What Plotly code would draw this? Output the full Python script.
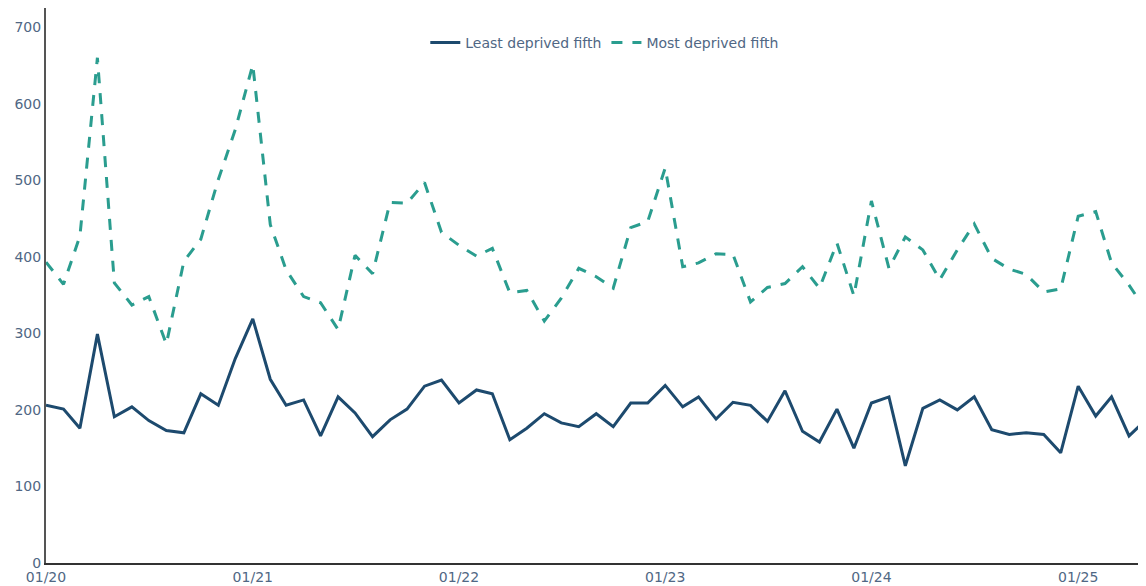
import pandas as pd
import plotly.graph_objects as go

# monthly series, Jan 2020 - May 2025
months = pd.date_range("2020-01-01", "2025-05-01", freq="MS")

least_deprived = [
    206, 201, 176, 299, 191, 204, 186, 173, 170, 221, 206, 267,
    319, 240, 206, 213, 166, 217, 196, 165, 187, 201, 231, 239,
    209, 226, 221, 161, 176, 195, 183, 178, 195, 178, 209, 209,
    232, 204, 217, 188, 210, 206, 185, 225, 172, 158, 201, 150,
    209, 217, 127, 202, 213, 200, 217, 174, 168, 170, 168, 144,
    231, 192, 217, 166, 187,
]

most_deprived = [
    393, 364, 427, 660, 366, 337, 348, 286, 394, 423, 501, 566,
    651, 442, 383, 348, 340, 305, 402, 378, 471, 470, 497, 432,
    415, 401, 411, 353, 356, 316, 346, 385, 374, 359, 438, 446,
    516, 387, 392, 404, 403, 341, 360, 365, 387, 359, 418, 349,
    473, 385, 426, 409, 370, 409, 443, 398, 384, 377, 354, 358,
    453, 459, 392, 363, 330,
]

fig = go.Figure()
fig.add_trace(go.Scatter(x=months, y=least_deprived, name="Least deprived fifth",
                         mode="lines", line=dict(color="#1d4a6e", width=3)))
fig.add_trace(go.Scatter(x=months, y=most_deprived, name="Most deprived fifth",
                         mode="lines", line=dict(color="#2a9d8f", width=3, dash="11px,10px")))

# page body has an 8px margin, so the figure is sized to fill the rest of the window
fig.update_layout(
    width=1138, height=578,
    template="plotly_white",
    font=dict(family="Verdana, DejaVu Sans, sans-serif", size=14, color="#506784"),
    margin=dict(l=38, r=0, t=0, b=23),
    legend=dict(orientation="h", x=0.508, xanchor="center", y=0.966, yanchor="top",
                font=dict(size=14, color="#506784")),
    xaxis=dict(range=[months[0], months[-1]], tickformat="%m/%y", dtick="M12",
               showgrid=False, zeroline=False, showline=True, linecolor="#333",
               linewidth=2, ticks="", tickfont=dict(size=14)),
    yaxis=dict(range=[0, 725], dtick=100, showgrid=False, zeroline=False,
               showline=True, linecolor="#555", linewidth=2, ticks="",
               tickfont=dict(size=14)),
    plot_bgcolor="white", paper_bgcolor="white",
)

fig.write_html("out.html")
